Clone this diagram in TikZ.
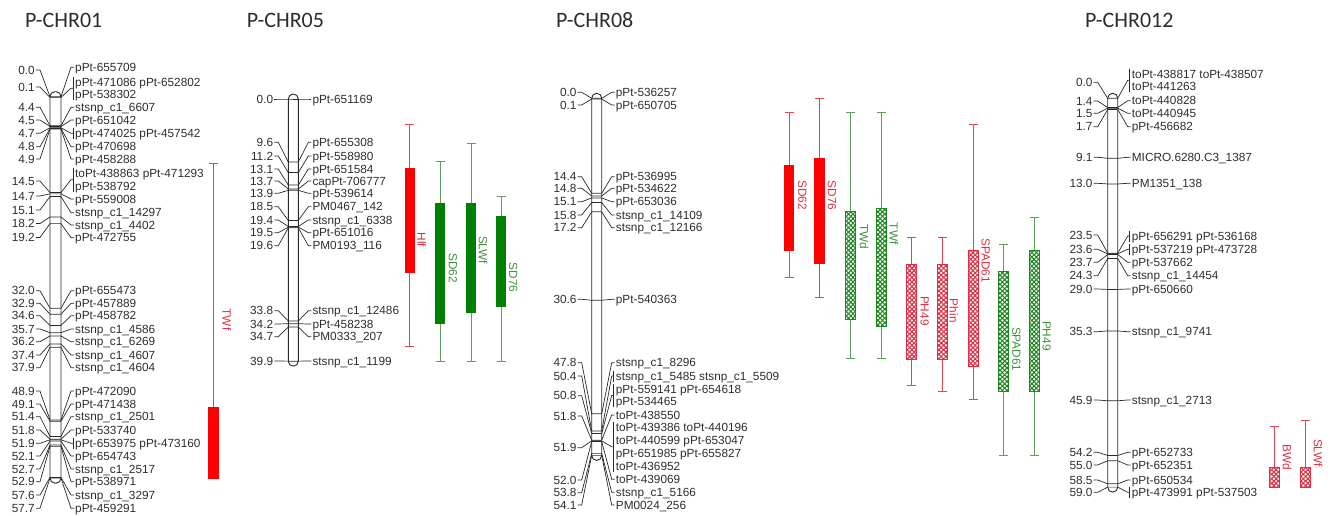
\documentclass[tikz,border=0pt]{standalone}
\usepackage{fontspec}
\setmainfont{Liberation Sans}
\newfontfamily\titlefont{Carlito}
\usetikzlibrary{patterns.meta}
\definecolor{txt}{RGB}{45,45,45}
\definecolor{ln}{RGB}{40,40,40}
\definecolor{wred}{RGB}{225,70,85}
\definecolor{bred}{RGB}{255,0,0}
\definecolor{lred}{RGB}{225,45,65}
\definecolor{hred}{RGB}{225,45,65}
\definecolor{wgreen}{RGB}{95,160,95}
\definecolor{bgreen}{RGB}{0,128,0}
\definecolor{lgreen}{RGB}{60,145,60}
\definecolor{hgreen}{RGB}{30,135,30}
\tikzset{
 lbl/.style={font=\fontsize{11.8}{13}\selectfont, text=txt, inner sep=0pt},
 numlbl/.style={lbl, anchor=base east},
 mklbl/.style={lbl, anchor=base west},
 conn/.style={draw=ln, line width=0.7pt},
 chrom/.style={draw=ln, line width=0.9pt},
 ttl/.style={font=\titlefont\fontsize{22}{24}\selectfont, text=txt, anchor=base west, inner sep=0pt},
 qlbl/.style={font=\fontsize{11.8}{13}\selectfont, rotate=-90, inner sep=0pt},
 whiskred/.style={draw=wred, line width=0.8pt},
 whiskgreen/.style={draw=wgreen, line width=0.8pt},
}
\newcommand\chromosome[5]{%
 \def\xl{#1}\def\xr{#2}\def\yz{#3}\def\kk{#4}%
 \draw[chrom, rounded corners=4.9pt] (#1,{#3-5}) rectangle (#2,{#3+#4*#5+5});
}
\newcommand\leftlabels[2]{\foreach \pos/\ly [count=\i] in {#2}{%
 \node[numlbl] (#1n\i) at ({\xl-15},{\ly+4.2}) {\pos};
 \draw[conn] ({\xl-14},\ly) -- ({\xl-10},\ly) -- (\xl,{\yz+\kk*\pos}) -- (\xr,{\yz+\kk*\pos});
}}
\newcommand\rightlabels[2]{\foreach \pos/\ly/\txt/\br [count=\i] in {#2}{%
 \node[mklbl] (#1m\i) at ({\xr+14},{\ly+4.2}) {\txt};
 \ifnum\br=0 \draw[conn] (\xr,{\yz+\kk*\pos}) -- ({\xr+10},\ly) -- ({\xr+13},\ly);\fi
}}
\newcommand\brackets[1]{\foreach \pos/\ya/\yb in {#1}{%
 \draw[conn] ({\xr+12},{\ya-5.5}) -- ({\xr+12},{\yb+5.5});
 \draw[conn] (\xr,{\yz+\kk*\pos}) -- ({\xr+10},{(\ya+\yb)/2}) -- ({\xr+12},{(\ya+\yb)/2});
}}
\newcommand\qwhisk[4]{%
 \draw[whisk#1] (#2,#3) -- (#2,#4);
 \draw[whisk#1] ({#2-4.5},#3) -- ({#2+4.5},#3);
 \draw[whisk#1] ({#2-4.5},#4) -- ({#2+4.5},#4);
}
\newcommand\qsolid[6]{%
 \qwhisk{#1}{#2}{#3}{#6}%
 \fill[b#1] ({#2-5.2},#4) rectangle ({#2+5.2},#5);
}
\newcommand\qhatch[6]{%
 \qwhisk{#1}{#2}{#3}{#6}%
 \fill[white] ({#2-5},#4) rectangle ({#2+5},#5);
 \fill[pattern={Lines[angle=45,distance=3.2pt,line width=1.1pt]}, pattern color=h#1] ({#2-5},#4) rectangle ({#2+5},#5);
 \fill[pattern={Lines[angle=-45,distance=3.2pt,line width=1.1pt]}, pattern color=h#1] ({#2-5},#4) rectangle ({#2+5},#5);
 \draw[h#1, line width=0.9pt] ({#2-5},#4) rectangle ({#2+5},#5);
}
\begin{document}
\begin{tikzpicture}[x=1pt,y=-1pt]
\useasboundingbox (0,0) rectangle (1338,515);
% titles
\node[ttl] (t1) at (25,27) {P-CHR01};
\node[ttl] (t5) at (246.7,27) {P-CHR05};
\node[ttl] (t8) at (556,27) {P-CHR08};
\node[ttl] (t12) at (1085,27) {P-CHR012};

% ---------------- P-CHR01
\chromosome{50}{61}{96.7}{6.61}{57.7}
\leftlabels{c1}{0.0/70, 0.1/87, 4.4/107.3, 4.5/120, 4.7/133.3, 4.8/146.7, 4.9/159, 14.5/181, 14.7/196, 15.1/210, 18.2/223.5, 19.2/237.5, 32.0/290.7, 32.9/303.3, 34.6/315.7, 35.7/329, 36.2/341.7, 37.4/355, 37.9/367.7, 48.9/391, 49.1/404, 51.4/416.7, 51.8/430, 51.9/443.3, 52.1/456, 52.7/469, 52.9/481.7, 57.6/495, 57.7/508.3}
\rightlabels{c1}{0.0/67.3/pPt-655709/0, 0.1/82.3/pPt-471086 pPt-652802/1, 0.1/94/pPt-538302/1, 4.4/107.3/stsnp\_c1\_6607/0, 4.5/120/pPt-651042/0, 4.7/133.3/pPt-474025 pPt-457542/1, 4.8/146.7/pPt-470698/0, 4.9/159/pPt-458288/0, 14.5/173.3/toPt-438863 pPt-471293/1, 14.5/186/pPt-538792/1, 14.7/199/pPt-559008/0, 15.1/212.7/stsnp\_c1\_14297/0, 18.2/225/stsnp\_c1\_4402/0, 19.2/237.7/pPt-472755/0, 32.0/290.7/pPt-655473/0, 32.9/303.3/pPt-457889/0, 34.6/315.7/pPt-458782/0, 35.7/329/stsnp\_c1\_4586/0, 36.2/341.7/stsnp\_c1\_6269/0, 37.4/355/stsnp\_c1\_4607/0, 37.9/367.7/stsnp\_c1\_4604/0, 48.9/391/pPt-472090/0, 49.1/404/pPt-471438/0, 51.4/416.7/stsnp\_c1\_2501/0, 51.8/430/pPt-533740/0, 51.9/443.3/pPt-653975 pPt-473160/1, 52.1/456/pPt-654743/0, 52.7/469/stsnp\_c1\_2517/0, 52.9/481.7/pPt-538971/0, 57.6/495/stsnp\_c1\_3297/0, 57.7/508.3/pPt-459291/0}
\brackets{0.1/82.3/94, 4.7/133.3/133.3, 14.5/173.3/186, 51.9/443.3/443.3}
\qsolid{red}{213.5}{163.3}{406.7}{478.5}{478.5}
\node[qlbl, text=lred] (qTWf1) at (227,319.5) {TWf};

% ---------------- P-CHR05
\chromosome{288.3}{298.3}{99}{6.57}{39.9}
\leftlabels{c5}{0.0/99, 9.6/142.3, 11.2/156, 13.1/169, 13.7/181, 13.9/193.3, 18.5/206.7, 19.4/220, 19.5/232.7, 19.6/245.7, 33.8/310.7, 34.2/324, 34.7/336.7, 39.9/361}
\rightlabels{c5}{0.0/99/pPt-651169/0, 9.6/142.3/pPt-655308/0, 11.2/156/pPt-558980/0, 13.1/169/pPt-651584/0, 13.7/181/capPt-706777/0, 13.9/193.3/pPt-539614/0, 18.5/206.7/PM0467\_142/0, 19.4/220/stsnp\_c1\_6338/0, 19.5/232.7/pPt-651016/0, 19.6/245.7/PM0193\_116/0, 33.8/310.7/stsnp\_c1\_12486/0, 34.2/324/pPt-458238/0, 34.7/336.7/PM0333\_207/0, 39.9/361/stsnp\_c1\_1199/0}
\qsolid{red}{409.7}{124.3}{167.7}{273.3}{346.7}
\node[qlbl, text=lred] (qHlf) at (421.7,240) {Hlf};
\qsolid{green}{440}{161}{202.7}{324}{361}
\node[qlbl, text=lgreen] (qSD62a) at (453,268) {SD62};
\qsolid{green}{471}{143.3}{202.7}{313.3}{361}
\node[qlbl, text=lgreen] (qSLWf) at (483,250) {SLWf};
\qsolid{green}{501}{196.7}{216}{306.7}{361}
\node[qlbl, text=lgreen] (qSD76a) at (513.3,277.5) {SD76};

% ---------------- P-CHR08
\chromosome{591.7}{601.7}{98.3}{6.6}{54.1}
\leftlabels{c8}{0.0/92.3, 0.1/105, 14.4/176.7, 14.8/188.3, 15.1/201.7, 15.8/215, 17.2/227.7, 30.6/299.3, 47.8/362.7, 50.4/376, 50.8/395.7, 51.8/416, 51.9/447.7, 52.0/480, 53.8/492.7, 54.1/505}
\rightlabels{c8}{0.0/92.3/pPt-536257/0, 0.1/105/pPt-650705/0, 14.4/176.7/pPt-536995/0, 14.8/188.3/pPt-534622/0, 15.1/201.7/pPt-653036/0, 15.8/215/stsnp\_c1\_14109/0, 17.2/227.7/stsnp\_c1\_12166/0, 30.6/299.3/pPt-540363/0, 47.8/362.7/stsnp\_c1\_8296/0, 50.4/376/stsnp\_c1\_5485 stsnp\_c1\_5509/1, 50.8/389.3/pPt-559141 pPt-654618/1, 50.8/401.7/pPt-534465/1, 51.8/415/toPt-438550/0, 51.9/427.7/toPt-439386 toPt-440196/1, 51.9/440.7/toPt-440599 pPt-653047/1, 51.9/453.3/pPt-651985 pPt-655827/1, 51.9/466/toPt-436952/1, 52.0/479.3/toPt-439069/0, 53.8/492.3/stsnp\_c1\_5166/0, 54.1/505/PM0024\_256/0}
\brackets{50.4/376/376, 50.8/389.3/401.7, 51.9/427.7/466}
\qsolid{red}{789}{112.3}{165}{250.7}{277.3}
\node[qlbl, text=lred] (qSD62b) at (802.5,195) {SD62};
\qsolid{red}{819.3}{98.3}{157.7}{264}{297.3}
\node[qlbl, text=lred] (qSD76b) at (832,195.5) {SD76};
\qhatch{green}{850.7}{112.3}{211}{319.3}{358.3}
\node[qlbl, text=lgreen] (qTWd) at (864,236.7) {TWd};
\qhatch{green}{881}{112.3}{208.3}{326.7}{358.3}
\node[qlbl, text=lgreen] (qTWf8) at (894,233.7) {TWf};
\qhatch{red}{911.7}{237.7}{264}{359}{385}
\node[qlbl, text=lred] (qPH49a) at (924.7,310.8) {PH49};
\qhatch{red}{942.3}{237.7}{264}{359}{391.7}
\node[qlbl, text=lred] (qPhin) at (954,310.8) {Phin};
\qhatch{red}{973}{124.3}{250.7}{366}{399}
\node[qlbl, text=lred] (qSPADa) at (985.7,260.8) {SPAD61};
\qhatch{green}{1003.3}{244}{271}{391.7}{455}
\node[qlbl, text=lgreen] (qSPADb) at (1016.3,349.2) {SPAD61};
\qhatch{green}{1034}{217.3}{250.7}{391.7}{455}
\node[qlbl, text=lgreen] (qPH49b) at (1046.7,335.8) {PH49};

% ---------------- P-CHR012
\chromosome{1107.7}{1117.7}{98.3}{6.59}{59.0}
\leftlabels{c12}{0.0/82.3, 1.4/101, 1.5/113.3, 1.7/126.7, 9.1/157.3, 13.0/183.3, 23.5/235, 23.6/249.3, 23.7/262.3, 24.3/275.7, 29.0/289, 35.3/331.7, 45.9/400, 54.2/452.3, 55.0/465, 58.5/480, 59.0/492.3}
\rightlabels{c12}{0.0/74/toPt-438817 toPt-438507/1, 0.0/86.7/toPt-441263/1, 1.4/100.7/toPt-440828/0, 1.5/113.3/toPt-440945/0, 1.7/126.7/pPt-456682/0, 9.1/157.3/MICRO.6280.C3\_1387/0, 13.0/183.3/PM1351\_138/0, 23.5/236/pPt-656291 pPt-536168/1, 23.6/249.3/pPt-537219 pPt-473728/1, 23.7/262.3/pPt-537662/0, 24.3/275.7/stsnp\_c1\_14454/0, 29.0/289/pPt-650660/0, 35.3/331.7/stsnp\_c1\_9741/0, 45.9/400/stsnp\_c1\_2713/0, 54.2/452.3/pPt-652733/0, 55.0/465/pPt-652351/0, 58.5/480/pPt-650534/0, 59.0/492.3/pPt-473991 pPt-537503/1}
\brackets{0.0/74/86.7, 23.5/236/236, 23.6/249.3/249.3, 59.0/492.3/492.3}
\qhatch{red}{1274.3}{426.7}{467.3}{487.3}{487.3}
\node[qlbl, text=lred] (qBWd) at (1287,457) {BWd};
\qhatch{red}{1305}{420}{467.3}{487.3}{487.3}
\node[qlbl, text=lred] (qSLWf12) at (1318,453) {SLWf};
\end{tikzpicture}
\end{document}
